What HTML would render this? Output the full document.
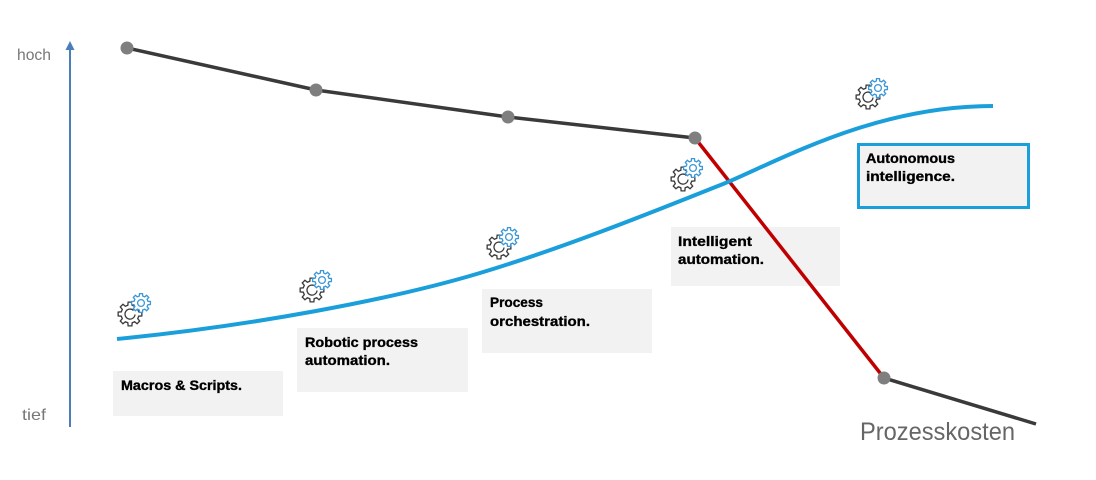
<!DOCTYPE html>
<html><head><meta charset="utf-8"><style>
html,body{margin:0;padding:0;background:#fff;}
svg{display:block;}
text{font-family:"Liberation Sans",sans-serif;}
.lbl{font-weight:bold;font-size:14px;fill:#000;stroke:#000;stroke-width:0.35;}
</style></head><body>
<svg width="1096" height="480" viewBox="0 0 1096 480" xmlns="http://www.w3.org/2000/svg">
<defs>
<path id="gp" d="M0.728,-0.181 L0.988,-0.156 L0.988,0.156 L0.728,0.181 L0.643,0.386 L0.809,0.588 L0.588,0.809 L0.386,0.643 L0.181,0.728 L0.156,0.988 L-0.156,0.988 L-0.181,0.728 L-0.386,0.643 L-0.588,0.809 L-0.809,0.588 L-0.643,0.386 L-0.728,0.181 L-0.988,0.156 L-0.988,-0.156 L-0.728,-0.181 L-0.643,-0.386 L-0.809,-0.588 L-0.588,-0.809 L-0.386,-0.643 L-0.181,-0.728 L-0.156,-0.988 L0.156,-0.988 L0.181,-0.728 L0.386,-0.643 L0.588,-0.809 L0.809,-0.588 L0.643,-0.386 Z"/>
<g id="gb">
  <g transform="scale(9.5)"><use href="#gp" fill="#fff" stroke="#3b97d6" stroke-width="0.14"/></g>
  <circle r="3.4" fill="none" stroke="#3b97d6" stroke-width="1.3"/>
</g>
<g id="gd2">
  <g transform="scale(12)"><use href="#gp" fill="#fff" stroke="#3a3a3a" stroke-width="0.11"/></g>
  <path d="M3.5,-3.5 A5,5 0 1 0 5,0.5" fill="none" stroke="#3a3a3a" stroke-width="1.3"/>
</g>
</defs>

<!-- axis -->
<line x1="70" y1="50" x2="70" y2="427" stroke="#4a7ebb" stroke-width="2"/>
<polygon points="70,41 65.5,50 74.5,50" fill="#4a7ebb"/>
<text x="17" y="60" font-size="16" fill="#777" textLength="34" lengthAdjust="spacingAndGlyphs">hoch</text>
<text x="22" y="420" font-size="16" fill="#777" textLength="24" lengthAdjust="spacingAndGlyphs">tief</text>

<!-- boxes -->
<rect x="113" y="371" width="170" height="45" fill="#f2f2f2"/>
<rect x="297" y="328" width="171" height="64" fill="#f2f2f2"/>
<rect x="482" y="289" width="170" height="64" fill="#f2f2f2"/>
<rect x="671" y="227" width="169" height="59" fill="#f2f2f2"/>
<rect x="858.5" y="144.5" width="170" height="63" fill="#f2f2f2" stroke="#1a9fdb" stroke-width="3"/>

<text class="lbl" x="121" y="390" textLength="121" lengthAdjust="spacingAndGlyphs">Macros &amp; Scripts.</text>
<text class="lbl" x="305" y="347" textLength="113" lengthAdjust="spacingAndGlyphs">Robotic process</text>
<text class="lbl" x="305" y="365" textLength="85" lengthAdjust="spacingAndGlyphs">automation.</text>
<text class="lbl" x="490" y="307" textLength="53" lengthAdjust="spacingAndGlyphs">Process</text>
<text class="lbl" x="490" y="326" textLength="100" lengthAdjust="spacingAndGlyphs">orchestration.</text>
<text class="lbl" x="678" y="246" textLength="74" lengthAdjust="spacingAndGlyphs">Intelligent</text>
<text class="lbl" x="678" y="264" textLength="86" lengthAdjust="spacingAndGlyphs">automation.</text>
<text class="lbl" x="866" y="163" textLength="89" lengthAdjust="spacingAndGlyphs">Autonomous</text>
<text class="lbl" x="866" y="181" textLength="89" lengthAdjust="spacingAndGlyphs">intelligence.</text>

<!-- cost line -->
<polyline points="127,48 316,90 508,117 695,138" fill="none" stroke="#3a3a3a" stroke-width="3.5"/>
<line x1="695" y1="138" x2="884" y2="378" stroke="#c00000" stroke-width="3.5"/>
<line x1="884" y1="378" x2="1036" y2="424" stroke="#3a3a3a" stroke-width="3.5"/>

<!-- blue curve -->
<path d="M117,339 C250,326 390,300 480,273 C570,246 670,205 728,182 C790,155 880,106 993,106" fill="none" stroke="#1a9fdb" stroke-width="4"/>

<!-- dots -->
<g fill="#7f7f7f">
<circle cx="127" cy="48" r="6.5"/>
<circle cx="316" cy="90" r="6.5"/>
<circle cx="508" cy="117" r="6.5"/>
<circle cx="695" cy="138" r="6.5"/>
<circle cx="884" cy="378" r="6.5"/>
</g>

<!-- gears -->
<use href="#gd2" x="130" y="314"/><use href="#gb" x="141" y="303"/>
<use href="#gd2" x="312" y="290"/><use href="#gb" x="322" y="280"/>
<use href="#gd2" x="499" y="247"/><use href="#gb" x="509" y="237"/>
<use href="#gd2" x="683" y="179"/><use href="#gb" x="693" y="168"/>
<use href="#gd2" x="868" y="97"/><use href="#gb" x="878" y="88"/>

<text x="860" y="440" font-size="25" fill="#666" textLength="155" lengthAdjust="spacingAndGlyphs">Prozesskosten</text>
</svg>
</body></html>
